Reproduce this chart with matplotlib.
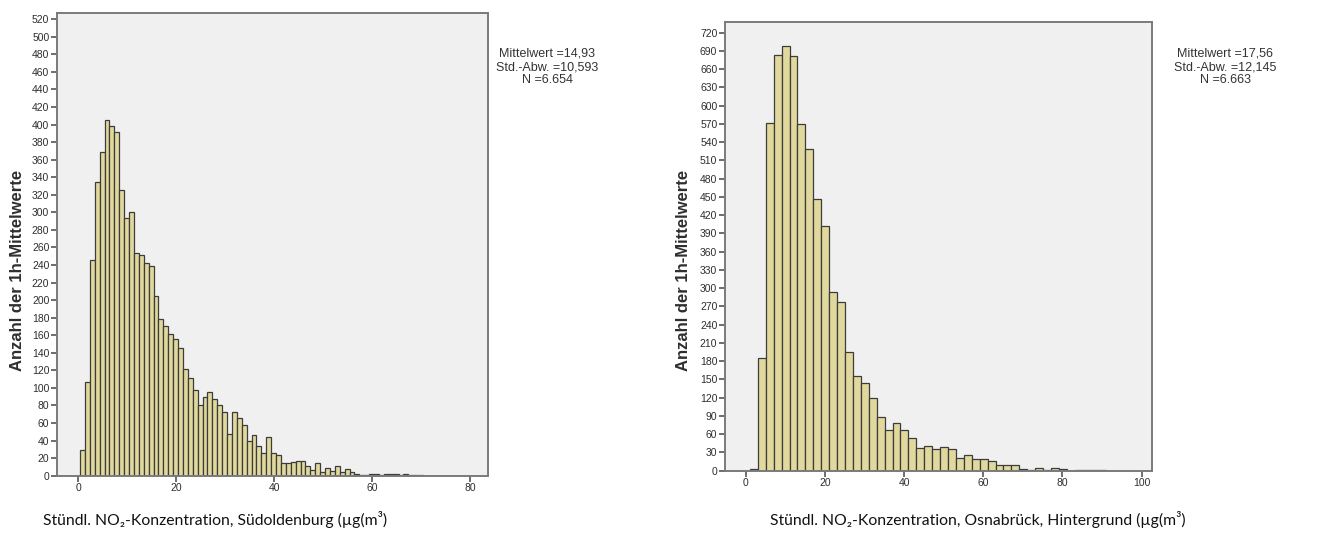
import numpy as np
import matplotlib
matplotlib.use("Agg")
import matplotlib.pyplot as plt
from matplotlib import font_manager

# ---------------- data ----------------
# Left: Südoldenburg, bins of width 1 µg/m³
left_counts = [29, 107, 246, 335, 369, 405, 398, 391, 325, 293,
               300, 254, 251, 242, 239, 205, 178, 171, 161, 156,
               146, 122, 111, 98, 81, 90, 95, 87, 81, 72,
               48, 72, 66, 58, 39, 46, 34, 26, 44, 26,
               24, 15, 15, 16, 17, 17, 11, 6, 15, 4,
               9, 5, 11, 4, 8, 4, 1.5, 1, 0.5, 2,
               2, 1, 2, 2, 2, 1, 2, 0.5, 0.5, 1]
left_bin_start = 0.35
left_bin_width = 1.0
left_stats = ["Mittelwert =14,93", "Std.-Abw. =10,593", "N =6.654"]
left_xticks = [0, 20, 40, 60, 80]
left_yticks = list(range(0, 521, 20))
left_caption = "Stündl. NO₂-Konzentration, Südoldenburg (µg(m³)"

# Right: Osnabrück, Hintergrund, bins of width 2 µg/m³
right_counts = [2, 186, 572, 684, 698, 682, 570, 528, 446, 403,
                293, 277, 195, 155, 144, 120, 89, 67, 79, 67,
                54, 38, 41, 35, 39, 35, 21, 26, 19, 20,
                16, 10, 9, 9, 3, 0.5, 5, 1, 4, 2,
                0, 0.5, 0.5, 0.5, 1]
right_bin_start = 1.1
right_bin_width = 2.0
right_stats = ["Mittelwert =17,56", "Std.-Abw. =12,145", "N =6.663"]
right_xticks = [0, 20, 40, 60, 80, 100]
right_yticks = list(range(0, 721, 30))
right_caption = "Stündl. NO₂-Konzentration, Osnabrück, Hintergrund (µg(m³)"

ylabel = "Anzahl der 1h-Mittelwerte"

# ---------------- style ----------------
BAR = "#E0D89C"
EDGE = "#3C3C3C"
PANEL = "#F0F0F0"
TXT = "#2E2E2E"
SPINE = "#7A7A7A"

plt.rcParams['font.family'] = ['Liberation Sans', 'DejaVu Sans']

installed = {f.name for f in font_manager.fontManager.ttflist}
label_family = (['Liberation Sans Narrow', 'DejaVu Sans']
                if 'Liberation Sans Narrow' in installed
                else ['Liberation Sans', 'DejaVu Sans'])
label_size = 14.5 if 'Liberation Sans Narrow' in installed else 12

fig = plt.figure(figsize=(13.28, 5.36), dpi=100)
fig.patch.set_facecolor("white")


def panel(rect, counts, start, width, xlim, ylim, xticks, yticks,
          stats, stats_x, caption, caption_x, ylabel_x):
    ax = fig.add_axes(rect)
    ax.set_facecolor(PANEL)
    counts = np.asarray(counts, dtype=float)
    lefts = start + width * np.arange(len(counts))
    ax.bar(lefts, counts, width=width, align="edge", color=BAR,
           edgecolor=EDGE, linewidth=0.9)
    ax.set_xlim(*xlim)
    ax.set_ylim(*ylim)
    ax.set_xticks(xticks)
    ax.set_yticks(yticks)
    ax.tick_params(axis="both", direction="out", length=4, width=1.2,
                   color="#555555", labelsize=7.5, labelcolor=TXT, pad=1.5)
    for s in ax.spines.values():
        s.set_color(SPINE)
        s.set_linewidth(1.4)
    fig.text(ylabel_x, 1 - 270 / 536, ylabel,
             rotation=90, ha="center", va="center", fontsize=label_size,
             fontweight="bold", color=TXT, family=label_family)
    # statistics text
    for i, t in enumerate(stats):
        fig.text(stats_x, 1 - (54 + i * 13) / 536, t, ha="center",
                 va="center", fontsize=9, color="#333333")
    fig.text(caption_x, 1 - 519 / 536, caption, ha="center", va="center",
             fontsize=11.3, color="#111111",
             family=["Lato", "DejaVu Sans"])
    return ax


panel([57 / 1328, 60.3 / 536, 431 / 1328, 462.7 / 536],
      left_counts, left_bin_start, left_bin_width,
      (-4.35, 83.6), (0, 527), left_xticks, left_yticks,
      left_stats, 547 / 1328, left_caption, 215 / 1328, 18 / 1328)

panel([725 / 1328, 65.3 / 536, 427 / 1328, 448.4 / 536],
      right_counts, right_bin_start, right_bin_width,
      (-5.2, 102.6), (0, 737), right_xticks, right_yticks,
      right_stats, 1225 / 1328, right_caption, 978 / 1328, 684 / 1328)

fig.savefig("out.png", dpi=100, facecolor="white")
